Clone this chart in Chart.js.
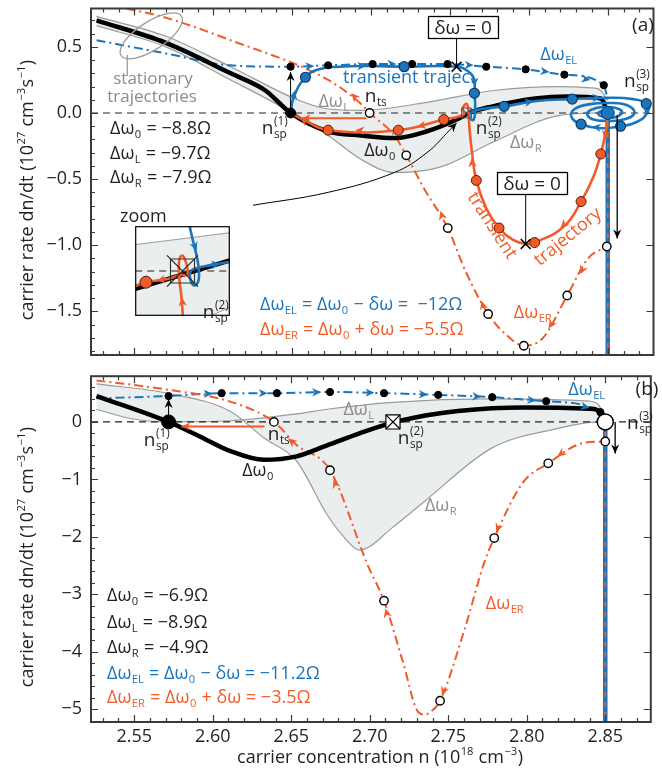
<!DOCTYPE html>
<html>
<head>
<meta charset="utf-8">
<script src="https://cdn.jsdelivr.net/npm/chart.js@4.4.1/dist/chart.umd.min.js"></script>
<style>
  body { margin: 0; background: #fff; width: 662px; height: 769px; overflow: hidden; position: relative; }
  canvas { position: absolute; left: 0; }
</style>
</head>
<body>
<canvas id="chartA" width="662" height="365" style="top:0"></canvas>
<canvas id="chartB" width="662" height="404" style="top:365px"></canvas>
<canvas id="zoomA" width="141" height="136" style="left:112px;top:203px"></canvas>
<script>
// ---- axes ----
const nMin = 2.5225, nMax = 2.879;
const nTicks = [2.55, 2.60, 2.65, 2.70, 2.75, 2.80, 2.85];
const aRateTicks = [-1.5, -1.0, -0.5, 0.0, 0.5];
const bRateTicks = [-5, -4, -3, -2, -1, 0];

// ---- panel (a) ----
const aDw0N = [2.526, 2.570, 2.611, 2.633, 2.649, 2.673, 2.6935, 2.715, 2.735, 2.756, 2.762, 2.777, 2.804, 2.824, 2.8456, 2.85];
const aDw0R = [0.70, 0.53, 0.30, 0.17, 0.0, -0.14, -0.17, -0.19, -0.14, -0.04, 0.0, 0.05, 0.11, 0.125, 0.11, 0.0];
const aDwLN = [2.526, 2.570, 2.611, 2.6534, 2.6728, 2.6935, 2.7354, 2.7774, 2.8187, 2.840, 2.8481, 2.85];
const aDwLR = [0.73, 0.58, 0.35, 0.10, 0.03, 0.02, 0.08, 0.17, 0.20, 0.19, 0.13, 0.0];
const aDwRN = [2.526, 2.570, 2.611, 2.6427, 2.6534, 2.6728, 2.6935, 2.7148, 2.731, 2.7461, 2.7774, 2.8187, 2.8462, 2.85];
const aDwRR = [0.66, 0.50, 0.25, 0.05, -0.03, -0.17, -0.35, -0.45, -0.44, -0.40, -0.22, -0.02, 0.0, 0.0];
const aElN = [2.526, 2.570, 2.611, 2.649, 2.6728, 2.701, 2.726, 2.7485, 2.773, 2.798, 2.8225, 2.8475, 2.85];
const aElR = [0.55, 0.45, 0.36, 0.35, 0.36, 0.37, 0.37, 0.37, 0.35, 0.33, 0.29, 0.21, 0.10];
const aElDotN = [2.649, 2.6728, 2.701, 2.726, 2.7485, 2.773, 2.798, 2.8225, 2.8475];
const aElDotR = [0.35, 0.36, 0.37, 0.37, 0.37, 0.35, 0.33, 0.29, 0.21];
const aErN = [2.545, 2.570, 2.611, 2.6728, 2.6935, 2.6991, 2.7148, 2.7223, 2.734, 2.7486, 2.760, 2.7742, 2.785, 2.7968, 2.809, 2.8243, 2.8375, 2.8494];
const aErR = [0.79, 0.72, 0.55, 0.25, 0.07, 0.0, -0.17, -0.32, -0.58, -0.87, -1.2, -1.52, -1.67, -1.76, -1.70, -1.38, -1.10, -1.01];
const aErDotN = [2.6991, 2.7223, 2.7486, 2.7742, 2.7968, 2.8243, 2.8494];
const aErDotR = [0.0, -0.32, -0.87, -1.52, -1.76, -1.38, -1.01];
// transient trajectories
const aTbN = [2.649, 2.651, 2.6584, 2.667, 2.680, 2.700, 2.721, 2.7542, 2.762, 2.7655, 2.7655, 2.766, 2.765, 2.7625, 2.763, 2.770, 2.7843, 2.805, 2.8275,
  2.85, 2.866, 2.8744, 2.875, 2.868, 2.8581, 2.845, 2.8331, 2.827, 2.829, 2.838, 2.85, 2.862, 2.867, 2.860, 2.85, 2.840, 2.837,
  2.842, 2.85, 2.857, 2.859, 2.855, 2.85, 2.845, 2.844, 2.847, 2.85, 2.853, 2.853, 2.85, 2.848, 2.85];
const aTbR = [0.0, 0.12, 0.27, 0.33, 0.35, 0.355, 0.35, 0.35, 0.31, 0.25, 0.15, 0.05, -0.05, -0.04, 0.0, 0.03, 0.05, 0.09, 0.105,
  0.115, 0.105, 0.07, 0.0, -0.07, -0.10, -0.115, -0.085, -0.03, 0.03, 0.065, 0.075, 0.06, 0.0, -0.05, -0.06, -0.045, 0.0,
  0.035, 0.045, 0.03, 0.0, -0.03, -0.035, -0.02, 0.0, 0.02, 0.022, 0.01, -0.01, -0.015, 0.0, 0.0];
const aTbDotN = [2.6584, 2.721, 2.7655, 2.7843, 2.8275, 2.8744, 2.8581, 2.8331];
const aTbDotR = [0.27, 0.35, 0.15, 0.05, 0.105, 0.07, -0.10, -0.085];
const aToN = [2.85, 2.849, 2.8456, 2.841, 2.8331, 2.822, 2.8037, 2.798, 2.790, 2.7811, 2.773, 2.7667, 2.764, 2.7624, 2.7615, 2.7605, 2.758, 2.7589, 2.7461, 2.7173, 2.6728, 2.657, 2.649];
const aToR = [0.0, -0.12, -0.31, -0.48, -0.67, -0.86, -0.98, -0.99, -0.96, -0.87, -0.72, -0.51, -0.30, -0.12, 0.03, 0.07, 0.03, -0.01, -0.05, -0.13, -0.13, -0.05, 0.0];
const aToDotN = [2.8456, 2.8331, 2.8037, 2.7811, 2.7667, 2.7461, 2.7173, 2.6728];
const aToDotR = [-0.31, -0.67, -0.98, -0.87, -0.51, -0.05, -0.13, -0.13];
const aLinkN = [2.624, 2.6728, 2.7148, 2.7354, 2.7498, 2.7542];
const aLinkR = [-0.70, -0.60, -0.45, -0.30, -0.13, -0.075];

// ---- zoom inset of (a) ----
const zDwLN = [2.756, 2.764];
const zDwLR = [0.0353, 0.0512];
const zDwRN = [2.756, 2.7624, 2.764];
const zDwRR = [-0.14, -0.06, -0.0485];
const zDw0N = [2.756, 2.764];
const zDw0R = [-0.0238, 0.0141];
const zToN = [2.76003, 2.75991, 2.75974, 2.75969, 2.7598, 2.76003, 2.76026, 2.76043, 2.76037, 2.75986, 2.75872, 2.75691, 2.756];
const zToR = [-0.06, -0.0344, -0.0124, 0.0079, 0.0185, 0.0203, 0.0132, 0.0026, -0.0053, -0.0053, -0.0106, -0.015, -0.0203];
const zTbN = [2.7606, 2.76099, 2.76128, 2.76139, 2.76133, 2.76099, 2.76065, 2.76071, 2.76105, 2.76241, 2.764];
const zTbR = [0.06, 0.0335, 0.0141, -0.0009, -0.0141, -0.0194, -0.0106, 0.0, 0.0035, 0.0079, 0.0124];

// ---- panel (b) ----
const bDw0N = [2.526, 2.5719, 2.5908, 2.6114, 2.6327, 2.6534, 2.6728, 2.6935, 2.7123, 2.7354, 2.7561, 2.798, 2.840, 2.8481, 2.85];
const bDw0R = [0.45, 0.0, -0.24, -0.51, -0.66, -0.60, -0.41, -0.20, -0.03, 0.11, 0.19, 0.25, 0.23, 0.14, 0.0];
const bDwLN = [2.526, 2.549, 2.570, 2.611, 2.6534, 2.6728, 2.7148, 2.7774, 2.840, 2.8462, 2.85];
const bDwLR = [0.22, 0.05, 0.0, 0.02, 0.14, 0.22, 0.34, 0.40, 0.36, 0.28, 0.0];
const bDwRN = [2.526, 2.573, 2.6114, 2.6327, 2.6534, 2.6728, 2.6835, 2.6935, 2.7148, 2.7354, 2.7774, 2.8187, 2.8462, 2.85];
const bDwRR = [0.66, 0.49, 0.18, -0.28, -0.68, -1.61, -2.0, -2.23, -1.83, -1.37, -0.46, -0.12, 0.0, 0.0];
const bElN = [2.526, 2.5719, 2.6057, 2.6409, 2.6747, 2.7091, 2.7436, 2.778, 2.8124, 2.8469, 2.85];
const bElR = [0.41, 0.45, 0.50, 0.50, 0.52, 0.50, 0.47, 0.43, 0.36, 0.17, 0.0];
const bElDotN = [2.5719, 2.6057, 2.6409, 2.6747, 2.7091, 2.7436, 2.778, 2.8124, 2.8469];
const bElDotR = [0.45, 0.50, 0.50, 0.52, 0.50, 0.47, 0.43, 0.36, 0.17];
const bErN = [2.526, 2.569, 2.6114, 2.639, 2.6534, 2.6747, 2.699, 2.7091, 2.721, 2.731, 2.7354, 2.7385, 2.7448, 2.7605, 2.773, 2.7793, 2.7974, 2.8137, 2.8356, 2.85];
const bErR = [0.72, 0.57, 0.35, 0.0, -0.40, -0.84, -2.51, -3.11, -4.16, -5.05, -5.09, -5.05, -4.85, -3.60, -2.44, -2.02, -1.06, -0.72, -0.37, -0.34];
const bErDotN = [2.639, 2.6747, 2.7091, 2.7448, 2.7793, 2.8137, 2.85];
const bErDotR = [0.0, -0.84, -3.11, -4.85, -2.02, -0.72, -0.34];

// ---- styling ----
const BLUE = '#1b75bc', ORANGE = '#f15a29', GRAY = '#9b9b9b', GRAYTXT = '#8c8c8c';
const BAND = 'rgba(230,234,234,0.8)', INK = '#231f20', AXIS = '#3a3a3a';
const FONT = '"Open Sans", "Noto Sans", sans-serif';

const zip = (xs, ys) => xs.map((v, i) => ({ x: v, y: ys[i] }));
function line(xs, ys, o) {
  return Object.assign({ type: 'line', data: zip(xs, ys), pointRadius: 0, borderWidth: 2, fill: false, tension: 0.4 }, o);
}
function dots(xs, ys, o) {
  return Object.assign({ type: 'line', data: zip(xs, ys), showLine: false, pointRadius: 4, borderWidth: 1 }, o);
}
const mono = { cubicInterpolationMode: 'monotone' };

// text with _{sub} and ^{sup}
function parseRich(str) {
  const segs = [];
  let buf = '', i = 0;
  while (i < str.length) {
    const c = str[i];
    if ((c === '_' || c === '^') && str[i + 1] === '{') {
      const end = str.indexOf('}', i);
      const txt = str.slice(i + 2, end);
      const key = c === '_' ? 'sub' : 'sup';
      const last = segs[segs.length - 1];
      if (buf === '' && last && last.script && !last[key]) last[key] = txt;
      else {
        if (buf) segs.push({ t: buf });
        buf = '';
        segs.push({ script: true, [key]: txt });
      }
      i = end + 1;
      continue;
    }
    buf += c; i++;
  }
  if (buf) segs.push({ t: buf });
  return segs;
}
function drawRich(ctx, str, x, y, o) {
  o = o || {};
  const size = o.size || 18, small = size * 0.62;
  const big = size + 'px ' + FONT, sm = small + 'px ' + FONT;
  const segs = parseRich(str);
  let w = 0;
  segs.forEach(s => {
    if (s.t !== undefined) { ctx.font = big; s.w = ctx.measureText(s.t).width; }
    else {
      ctx.font = sm;
      s.w = Math.max(s.sub ? ctx.measureText(s.sub).width : 0, s.sup ? ctx.measureText(s.sup).width : 0) + 1;
    }
    w += s.w;
  });
  ctx.save();
  ctx.translate(x, y);
  if (o.rot) ctx.rotate(o.rot * Math.PI / 180);
  ctx.fillStyle = o.color || INK;
  ctx.textAlign = 'left';
  ctx.textBaseline = 'alphabetic';
  let cx = o.align === 'left' ? 0 : o.align === 'right' ? -w : -w / 2;
  const base = size * 0.36;
  segs.forEach(s => {
    if (s.t !== undefined) { ctx.font = big; ctx.fillText(s.t, cx, base); }
    else {
      ctx.font = sm;
      if (s.sub) ctx.fillText(s.sub, cx + 0.5, base + size * 0.2);
      if (s.sup) ctx.fillText(s.sup, cx + 0.5, base - size * 0.45);
    }
    cx += s.w;
  });
  ctx.restore();
}

function arrowHead(ctx, x1, y1, x2, y2, color, len, half) {
  len = len || 9; half = half || 4;
  const a = Math.atan2(y2 - y1, x2 - x1);
  ctx.save();
  ctx.translate(x2, y2);
  ctx.rotate(a);
  ctx.fillStyle = color;
  ctx.beginPath();
  ctx.moveTo(0, 0);
  ctx.lineTo(-len, -half);
  ctx.lineTo(-len * 0.7, 0);
  ctx.lineTo(-len, half);
  ctx.closePath();
  ctx.fill();
  ctx.restore();
}
const COL = { b: BLUE, B: BLUE, o: ORANGE, O: ORANGE, k: '#000' };

function drawFrame(chart, f) {
  const { ctx, chartArea: a, scales: { x, y } } = chart;
  ctx.save();
  ctx.strokeStyle = AXIS;
  ctx.lineWidth = 1.2;
  ctx.beginPath();
  for (let k = 253; k <= 287; k++) {
    const px = Math.round(x.getPixelForValue(k / 100)) + 0.5;
    const len = k % 5 === 0 ? 7 : 4;
    ctx.moveTo(px, a.bottom); ctx.lineTo(px, a.bottom - len);
    ctx.moveTo(px, a.top); ctx.lineTo(px, a.top + len);
  }
  for (let k = f.from; k <= f.to; k++) {
    const py = Math.round(y.getPixelForValue(k / f.div)) + 0.5;
    const major = k % f.every === 0;
    ctx.moveTo(a.left, py); ctx.lineTo(a.left + (major ? 7 : 4), py);
    if (major) { ctx.moveTo(a.right, py); ctx.lineTo(a.right - 7, py); }
  }
  ctx.stroke();
  ctx.lineWidth = 2;
  ctx.strokeRect(a.left, a.top, a.right - a.left, a.bottom - a.top);
  ctx.restore();
}

function decor(cfg) {
  return {
    id: 'decor',
    beforeDraw(chart) {
      if (cfg.white) {
        chart.ctx.save();
        chart.ctx.fillStyle = '#fff';
        chart.ctx.fillRect(0, 0, chart.width, chart.height);
        chart.ctx.restore();
      }
    },
    afterDatasetsDraw(chart) {
      const { ctx, scales: { x, y } } = chart;
      const P = (n, r) => [x.getPixelForValue(n), y.getPixelForValue(r)];
      ctx.save();
      (cfg.shafts || []).forEach(s => {
        const [x1, y1] = P(s.from[0], s.from[1]), [x2, y2] = P(s.to[0], s.to[1]);
        ctx.strokeStyle = s.color; ctx.lineWidth = s.w || 1.2;
        ctx.beginPath(); ctx.moveTo(x1, y1); ctx.lineTo(x2, y2); ctx.stroke();
        arrowHead(ctx, x1, y1, x2, y2, s.color, 9, 4);
      });
      (cfg.heads || []).forEach(h => {
        const [x1, y1] = P(h[0], h[1]), [x2, y2] = P(h[2], h[3]);
        arrowHead(ctx, x1, y1, x2, y2, COL[h[4]], 9, 4.2);
      });
      (cfg.boxes || []).forEach(b => {
        const [mx, my] = P(b.n, b.r);
        ctx.strokeStyle = '#000'; ctx.lineWidth = 1;
        ctx.beginPath(); ctx.moveTo(mx, my); ctx.lineTo(mx, b.by + b.h / 2); ctx.stroke();
        ctx.fillStyle = '#fff';
        ctx.fillRect(b.bx - b.w / 2, b.by - b.h / 2, b.w, b.h);
        ctx.lineWidth = 1.3;
        ctx.strokeRect(b.bx - b.w / 2 + 0.5, b.by - b.h / 2 + 0.5, b.w, b.h);
        drawRich(ctx, 'δω = 0', b.bx, b.by, { size: 19 });
      });
      if (cfg.ellipse) {
        const e = cfg.ellipse;
        const [cx, cy] = P(e.n, e.r);
        ctx.strokeStyle = GRAY; ctx.lineWidth = 1.3;
        ctx.beginPath(); ctx.ellipse(cx, cy, e.rx, e.ry, e.rot * Math.PI / 180, 0, Math.PI * 2); ctx.stroke();
        ctx.beginPath(); ctx.moveTo(cx - 24, cy + 19); ctx.lineTo(cx - 24, cy + 40); ctx.stroke();
      }
      if (cfg.frame) drawFrame(chart, cfg.frame);
      if (cfg.border) {
        const a = chart.chartArea;
        ctx.strokeStyle = '#000'; ctx.lineWidth = 1.2;
        ctx.strokeRect(a.left + 0.5, a.top + 0.5, a.right - a.left - 1, a.bottom - a.top - 1);
      }
      (cfg.texts || []).forEach(t => drawRich(ctx, t[0], t[1], t[2], t[3]));
      ctx.restore();
    }
  };
}

function makeChart(id, datasets, o) {
  const font = { family: FONT, size: 18 };
  return new Chart(document.getElementById(id), {
    type: 'line',
    data: { datasets },
    options: {
      responsive: false, animation: false, devicePixelRatio: 1, events: [],
      layout: { padding: o.padding },
      plugins: { legend: { display: false }, tooltip: { enabled: false } },
      scales: {
        x: {
          type: 'linear', min: o.xMin, max: o.xMax, display: o.axes,
          grid: { display: false, drawTicks: false }, border: { display: false },
          ticks: { display: !!o.xLabels, font, color: INK, padding: 4, maxRotation: 0, autoSkip: false, callback: v => v.toFixed(2) },
          afterBuildTicks: s => { s.ticks = nTicks.map(v => ({ value: v })); },
          afterFit: s => { s.height = o.xHeight; s.paddingLeft = 0; s.paddingRight = 0; }
        },
        y: {
          type: 'linear', min: o.yMin, max: o.yMax, display: o.axes,
          grid: { display: false, drawTicks: false }, border: { display: false },
          ticks: { font, color: INK, padding: 9, callback: o.fmt },
          afterBuildTicks: s => { s.ticks = (o.yTicks || []).map(v => ({ value: v })); },
          afterFit: s => { s.width = o.yWidth; s.paddingTop = 0; s.paddingBottom = 0; }
        }
      }
    },
    plugins: [decor(o.decor)]
  });
}

const minus = v => (v < 0 ? '\u2212' : '');
const yTitle = 'carrier rate dn/dt (10^{27} cm^{\u22123}s^{\u22121})';

// ---------- panel (a) ----------
const aMin = -1.83, aMax = 0.79;
makeChart('chartA', [
  line(aDwLN, aDwLR, Object.assign({ borderColor: GRAY, borderWidth: 1.2, fill: '+1', backgroundColor: BAND, order: 20 }, mono)),
  line(aDwRN, aDwRR, Object.assign({ borderColor: GRAY, borderWidth: 1.2, order: 19 }, mono)),
  line([nMin, nMax], [0, 0], { borderColor: '#222', borderWidth: 1.2, borderDash: [7, 5], tension: 0, order: 18 }),
  line([2.85, 2.85], [0, aMin], { borderColor: BLUE, borderWidth: 4.5, tension: 0, order: 12 }),
  line([2.85, 2.85], [0, aMin], { borderColor: ORANGE, borderWidth: 1.8, borderDash: [5, 5], tension: 0, order: 11 }),
  line(aErN, aErR, Object.assign({ borderColor: ORANGE, borderWidth: 2, borderDash: [9, 4, 2, 4], order: 10 }, mono)),
  line(aElN, aElR, Object.assign({ borderColor: BLUE, borderWidth: 2, borderDash: [9, 4, 2, 4], order: 10 }, mono)),
  line(aDw0N, aDw0R, Object.assign({ borderColor: '#000', borderWidth: 4.5, order: 8 }, mono)),
  line(aLinkN, aLinkR, { borderColor: '#000', borderWidth: 1, order: 7 }),
  line(aTbN, aTbR, { borderColor: BLUE, borderWidth: 2.6, tension: 0.45, order: 6 }),
  line(aToN, aToR, { borderColor: ORANGE, borderWidth: 2.6, tension: 0.45, order: 5 }),
  dots(aElDotN, aElDotR, { pointRadius: 3.6, backgroundColor: '#000', borderColor: '#000', order: 3 }),
  dots(aErDotN, aErDotR, { pointRadius: 4.2, backgroundColor: '#fff', borderColor: '#000', borderWidth: 1.4, order: 3 }),
  dots(aTbDotN, aTbDotR, { pointRadius: 5, backgroundColor: BLUE, borderColor: '#0d3a63', borderWidth: 1.2, order: 2 }),
  dots(aToDotN, aToDotR, { pointRadius: 5, backgroundColor: ORANGE, borderColor: '#5a1a05', borderWidth: 1, order: 2 }),
  dots([2.649], [0], { pointRadius: 5, backgroundColor: '#000', borderColor: '#000', order: 1 }),
  dots([2.85], [0], { pointRadius: 6.5, backgroundColor: BLUE, borderColor: '#0d3a63', borderWidth: 1, order: 1 }),
  dots([2.7542, 2.798], [0.35, -0.99], { pointStyle: 'crossRot', pointRadius: 7, borderColor: '#000', borderWidth: 1.5, order: 1 }),
  dots([2.7605], [0.0], { pointStyle: 'rect', pointRadius: 7, backgroundColor: 'rgba(255,255,255,0)', borderColor: '#555', borderWidth: 1, order: 1 }),
  dots([2.7605], [0.0], { pointStyle: 'crossRot', pointRadius: 7, borderColor: '#555', borderWidth: 1, order: 1 })
], {
  xMin: nMin, xMax: nMax, yMin: aMin, yMax: aMax, yTicks: aRateTicks, axes: true, xLabels: false, xHeight: 10, yWidth: 91,
  padding: { top: 3, right: -1, left: 0, bottom: 0 },
  fmt: v => minus(v) + Math.abs(v).toFixed(1),
  decor: {
    frame: { from: -18, to: 7, div: 10, every: 5 },
    ellipse: { n: 2.5607, r: 0.583, rx: 36, ry: 14, rot: -33 },
    boxes: [{ n: 2.7542, r: 0.35, bx: 463, by: 27, w: 70, h: 22 }, { n: 2.798, r: -0.99, bx: 532, by: 183, w: 70, h: 22 }],
    shafts: [
      { from: [2.649, 0.04], to: [2.649, 0.31], color: '#000', w: 1 },
      { from: [2.856, -0.02], to: [2.856, -0.95], color: '#000', w: 1.3 },
      { from: [2.697, -0.04], to: [2.656, -0.04], color: ORANGE, w: 1.8 }
    ],
    heads: [
      [2.657, 0.352, 2.664, 0.355, 'b'], [2.708, 0.37, 2.716, 0.37, 'b'], [2.757, 0.365, 2.765, 0.36, 'b'],
      [2.806, 0.32, 2.813, 0.31, 'b'], [2.832, 0.265, 2.839, 0.25, 'b'],
      [2.6905, 0.11, 2.6875, 0.15, 'o'], [2.7455, -0.80, 2.7440, -0.74, 'o'], [2.7715, -1.48, 2.7700, -1.42, 'o'],
      [2.8152, -1.58, 2.8125, -1.63, 'o'], [2.8345, -1.17, 2.8325, -1.22, 'o'],
      [2.6505, 0.10, 2.6515, 0.17, 'B'], [2.689, 0.355, 2.697, 0.355, 'B'], [2.7655, 0.25, 2.7655, 0.20, 'B'],
      [2.796, 0.075, 2.803, 0.088, 'B'], [2.838, 0.114, 2.846, 0.116, 'B'], [2.8748, 0.03, 2.8745, -0.02, 'B'],
      [2.848, -0.115, 2.840, -0.105, 'B'],
      [2.849, -0.13, 2.848, -0.20, 'O'], [2.826, -0.80, 2.820, -0.87, 'O'], [2.7645, -0.42, 2.7638, -0.34, 'O'],
      [2.736, -0.085, 2.729, -0.105, 'O'], [2.697, -0.135, 2.690, -0.13, 'O'], [2.6605, -0.08, 2.655, -0.035, 'O'],
      [2.7498, -0.13, 2.7542, -0.075, 'k']
    ],
    texts: [
      [yTitle, 27, 190, { rot: -90 }],
      ['Δω_{0} = \u22128.8Ω', 110, 128, { align: 'left' }],
      ['Δω_{L} = \u22129.7Ω', 110, 153, { align: 'left' }],
      ['Δω_{R} = \u22127.9Ω', 110, 177, { align: 'left' }],
      ['Δω_{EL} = Δω_{0} \u2212 δω =  \u221212Ω', 260, 304, { align: 'left', color: BLUE }],
      ['Δω_{ER} = Δω_{0} + δω = \u22125.5Ω', 260, 329, { align: 'left', color: ORANGE }],
      ['(a)', 643, 24, { size: 19 }],
      ['Δω_{EL}', 559, 54, { color: BLUE }],
      ['n_{sp}^{(3)}', 624, 80, { align: 'left', size: 19 }],
      ['transient trajec.', 409, 77, { color: BLUE }],
      ['n_{ts}', 376, 95, { size: 19 }],
      ['Δω_{L}', 334, 101, { color: GRAYTXT }],
      ['n_{sp}^{(1)}', 275, 127, { size: 19 }],
      ['n_{sp}^{(2)}', 489, 127, { size: 19 }],
      ['Δω_{0}', 380, 150],
      ['Δω_{R}', 526, 142, { color: GRAYTXT }],
      ['transient', 493, 225, { color: ORANGE, rot: 57 }],
      ['trajectory', 567, 236, { color: ORANGE, rot: -39 }],
      ['Δω_{ER}', 533, 312, { color: ORANGE }],
      ['stationary', 153, 78, { color: GRAYTXT, size: 17 }],
      ['trajectories', 152, 96, { color: GRAYTXT, size: 17 }]
    ]
  }
});

// ---------- zoom inset ----------
makeChart('zoomA', [
  line(zDwLN, zDwLR, { borderColor: GRAY, borderWidth: 1, fill: '+1', backgroundColor: BAND, tension: 0, order: 20 }),
  line(zDwRN, zDwRR, { borderColor: GRAY, borderWidth: 1, tension: 0, order: 19 }),
  line([2.756, 2.764], [0, 0], { borderColor: '#222', borderWidth: 1.2, borderDash: [7, 5], tension: 0, order: 18 }),
  line(zDw0N, zDw0R, { borderColor: '#000', borderWidth: 4.5, tension: 0, order: 8 }),
  line(zToN, zToR, { borderColor: ORANGE, borderWidth: 2.6, tension: 0.4, order: 5 }),
  line(zTbN, zTbR, { borderColor: BLUE, borderWidth: 2.6, tension: 0.4, order: 6 }),
  dots([2.75691], [-0.015], { pointRadius: 6, backgroundColor: ORANGE, borderColor: '#5a1a05', borderWidth: 1, order: 2 }),
  dots([2.760], [0.0], { pointStyle: 'rect', pointRadius: 17, backgroundColor: 'rgba(255,255,255,0)', borderColor: '#333', borderWidth: 1.2, order: 1 }),
  dots([2.760], [0.0], { pointStyle: 'crossRot', pointRadius: 22, borderColor: '#222', borderWidth: 1.2, order: 1 })
], {
  xMin: 2.756, xMax: 2.764, yMin: -0.06, yMax: 0.06, axes: false, xHeight: 0, yWidth: 0,
  padding: 0,
  decor: {
    white: true, border: true,
    heads: [
      [2.7583, -0.0115, 2.7578, -0.013, 'o'], [2.7600, -0.045, 2.75995, -0.035, 'o'],
      [2.7610, 0.035, 2.7612, 0.027, 'b'], [2.7625, 0.0085, 2.7632, 0.0095, 'b']
    ],
    texts: [
      ['zoom', 8, 13, { align: 'left' }],
      ['n_{sp}^{(2)}', 104, 108, { size: 19 }]
    ]
  }
});

// ---------- panel (b) ----------
const bMin = -5.22, bMax = 0.795;
makeChart('chartB', [
  line(bDwLN, bDwLR, Object.assign({ borderColor: GRAY, borderWidth: 1.2, fill: '+1', backgroundColor: BAND, order: 20 }, mono)),
  line(bDwRN, bDwRR, Object.assign({ borderColor: GRAY, borderWidth: 1.2, order: 19 }, mono)),
  line([nMin, nMax], [0, 0], { borderColor: '#222', borderWidth: 1.2, borderDash: [7, 5], tension: 0, order: 18 }),
  line([2.85, 2.85], [0, bMin], { borderColor: BLUE, borderWidth: 4.5, tension: 0, order: 12 }),
  line([2.85, 2.85], [0, bMin], { borderColor: ORANGE, borderWidth: 1.8, borderDash: [5, 5], tension: 0, order: 11 }),
  line(bErN, bErR, Object.assign({ borderColor: ORANGE, borderWidth: 2, borderDash: [9, 4, 2, 4], order: 10 }, mono)),
  line(bElN, bElR, Object.assign({ borderColor: BLUE, borderWidth: 2, borderDash: [9, 4, 2, 4], order: 10 }, mono)),
  line(bDw0N, bDw0R, Object.assign({ borderColor: '#000', borderWidth: 4.5, order: 8 }, mono)),
  dots(bElDotN, bElDotR, { pointRadius: 3.6, backgroundColor: '#000', borderColor: '#000', order: 3 }),
  dots(bErDotN, bErDotR, { pointRadius: 4.2, backgroundColor: '#fff', borderColor: '#000', borderWidth: 1.4, order: 3 }),
  dots([2.5719], [0], { pointRadius: 7, backgroundColor: '#000', borderColor: '#000', order: 1 }),
  dots([2.85], [0], { pointRadius: 8, backgroundColor: '#fff', borderColor: '#000', borderWidth: 1.5, order: 1 }),
  dots([2.7148], [0], { pointStyle: 'rect', pointRadius: 10, backgroundColor: '#fff', borderColor: '#000', borderWidth: 1.2, order: 2 }),
  dots([2.7148], [0], { pointStyle: 'crossRot', pointRadius: 10, borderColor: '#000', borderWidth: 1.2, order: 1 })
], {
  xMin: nMin, xMax: nMax, yMin: bMin, yMax: bMax, yTicks: bRateTicks, axes: true, xLabels: true, xHeight: 47, yWidth: 91,
  padding: { top: 6, right: -1, left: 0, bottom: 0 },
  fmt: v => minus(v) + Math.abs(v),
  decor: {
    frame: { from: -26, to: 4, div: 5, every: 5 },
    shafts: [
      { from: [2.633, -0.08], to: [2.580, -0.08], color: ORANGE, w: 1.8 },
      { from: [2.5719, 0.1], to: [2.5719, 0.40], color: '#000', w: 1 },
      { from: [2.8563, 0.0], to: [2.8563, -0.55], color: '#000', w: 1.3 }
    ],
    heads: [
      [2.596, 0.49, 2.600, 0.495, 'b'], [2.629, 0.50, 2.635, 0.50, 'b'], [2.664, 0.515, 2.669, 0.517, 'b'],
      [2.697, 0.51, 2.703, 0.505, 'b'], [2.732, 0.48, 2.737, 0.476, 'b'], [2.766, 0.445, 2.771, 0.438, 'b'],
      [2.801, 0.385, 2.806, 0.374, 'b'], [2.836, 0.27, 2.840, 0.24, 'b'],
      [2.652, -0.38, 2.648, -0.29, 'o'], [2.679, -1.15, 2.677, -1.0, 'o'], [2.7115, -3.40, 2.7100, -3.25, 'o'],
      [2.8215, -0.56, 2.8195, -0.60, 'o'], [2.782, -1.82, 2.7805, -1.92, 'o'], [2.7475, -4.65, 2.7460, -4.76, 'o']
    ],
    texts: [
      [yTitle, 27, 192, { rot: -90 }],
      ['carrier concentration n (10^{18} cm^{\u22123})', 380, 392],
      ['Δω_{0} = \u22126.9Ω', 107, 230, { align: 'left' }],
      ['Δω_{L} = \u22128.9Ω', 107, 257, { align: 'left' }],
      ['Δω_{R} = \u22124.9Ω', 107, 282, { align: 'left' }],
      ['Δω_{EL} = Δω_{0} \u2212 δω = \u221211.2Ω', 107, 308, { align: 'left', color: BLUE }],
      ['Δω_{ER} = Δω_{0} + δω = \u22123.5Ω', 107, 332, { align: 'left', color: ORANGE }],
      ['(b)', 647, 23, { size: 19 }],
      ['Δω_{EL}', 587, 24, { color: BLUE }],
      ['n_{sp}^{(3)}', 627, 57, { align: 'left', size: 19 }],
      ['Δω_{L}', 359, 44, { color: GRAYTXT }],
      ['n_{sp}^{(2)}', 411, 72, { size: 19 }],
      ['Δω_{R}', 441, 140, { color: GRAYTXT }],
      ['Δω_{0}', 258, 105],
      ['n_{sp}^{(1)}', 157, 74, { size: 19 }],
      ['n_{ts}', 279, 68, { size: 19 }],
      ['Δω_{ER}', 505, 238, { color: ORANGE }]
    ]
  }
});
</script>
</body>
</html>
